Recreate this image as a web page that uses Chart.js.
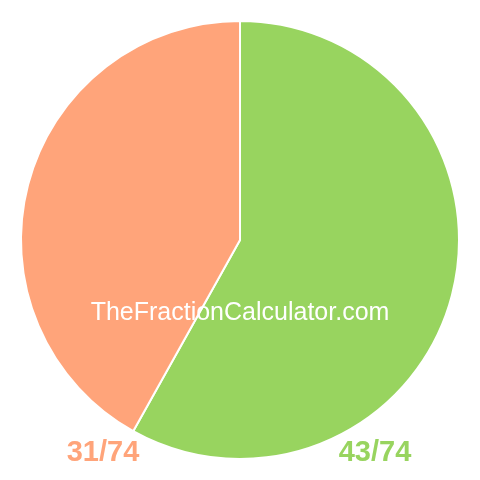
<!DOCTYPE html>
<html>
<head>
<meta charset="utf-8">
<script src="https://cdn.jsdelivr.net/npm/chart.js@4/dist/chart.umd.min.js"></script>
<style>
  html, body { margin: 0; padding: 0; background: #fff; }
  #wrap { width: 480px; height: 480px; }
</style>
</head>
<body>
<div id="wrap"><canvas id="fracao" width="480" height="480"></canvas></div>
<script>
// dados da fração
var rotulos = ['43/74', '31/74'];
var valores = [43, 31];
var cores = ['#98d45f', '#ffa47a'];
var marcaDagua = 'TheFractionCalculator.com';

// escreve a marca d'água e os rótulos das frações
var textosPlugin = {
    id: 'textos',
    afterDraw: function(chart) {
        var ctx = chart.ctx;
        var area = chart.chartArea;
        var cx = (area.left + area.right) / 2;
        ctx.save();
        ctx.textAlign = 'center';
        ctx.textBaseline = 'alphabetic';

        ctx.fillStyle = '#ffffff';
        ctx.font = '25px "Liberation Sans", Arial, sans-serif';
        ctx.fillText(marcaDagua, cx, 320);

        ctx.font = 'bold 29px "Liberation Sans", Arial, sans-serif';
        ctx.fillStyle = cores[1];
        ctx.fillText(rotulos[1], 103, 461);
        ctx.fillStyle = cores[0];
        ctx.fillText(rotulos[0], 375, 461);
        ctx.restore();
    }
};

var ctx_fracao = document.getElementById('fracao').getContext('2d');
var grafico = new Chart(ctx_fracao, {
    type: 'pie',
    data: {
        labels: rotulos,
        datasets: [{
            data: valores,
            backgroundColor: cores,
            borderColor: '#ffffff',
            borderWidth: 2
        }]
    },
    options: {
        responsive: false,
        animation: false,
        layout: { padding: 20 },
        plugins: {
            legend: { display: false },
            tooltip: { enabled: false }
        }
    },
    plugins: [textosPlugin]
});
</script>
</body>
</html>
